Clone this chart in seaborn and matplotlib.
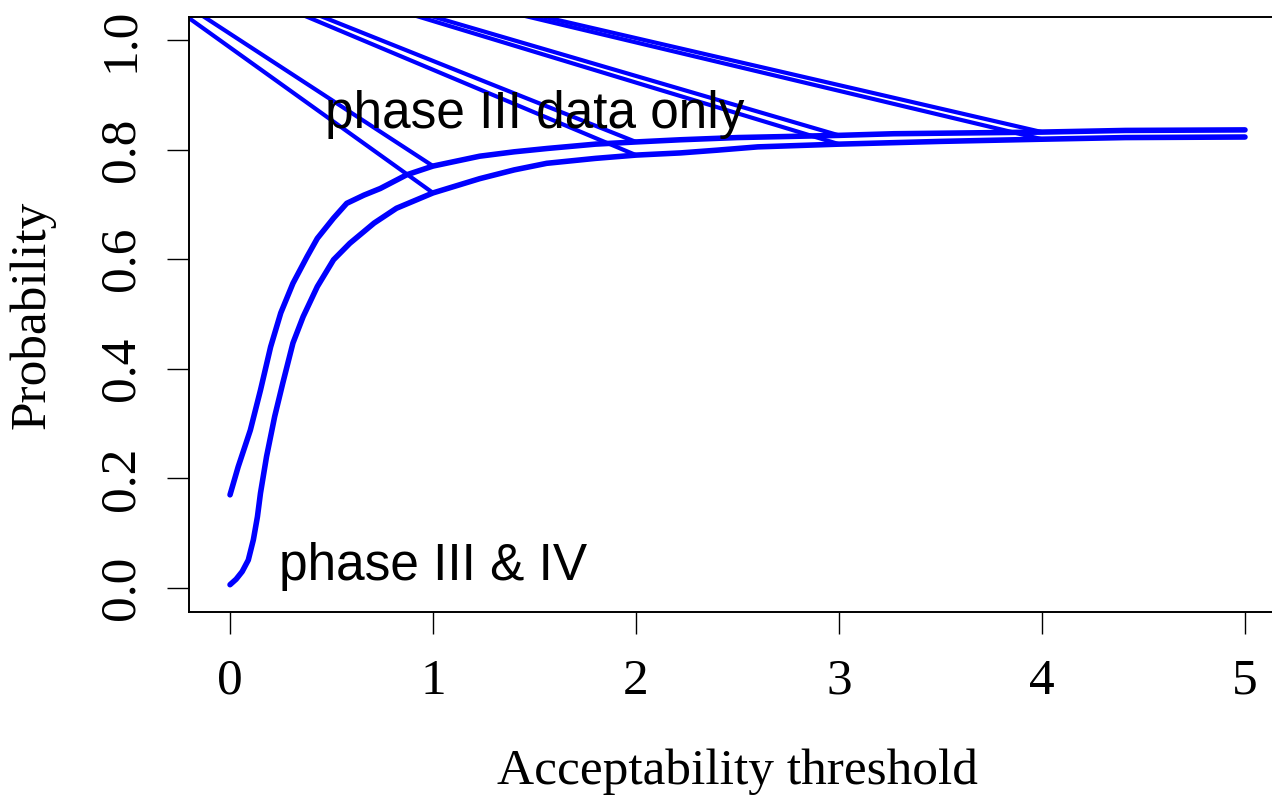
import numpy as np
import pandas as pd
import matplotlib
matplotlib.use("Agg")
import matplotlib.pyplot as plt
import seaborn as sns

# Acceptability curves: probability vs. acceptability threshold
threshold_phase3 = [0.0, 0.04, 0.10, 0.15, 0.20, 0.25, 0.31, 0.38, 0.43, 0.51,
                    0.575, 0.66, 0.74, 0.87, 1.0, 1.23, 1.40, 1.56, 1.80, 2.0,
                    2.22, 2.5, 3.0, 3.27, 4.0, 4.41, 5.0]
prob_phase3 = [0.170, 0.221, 0.288, 0.361, 0.440, 0.502, 0.556, 0.605, 0.638, 0.675,
               0.702, 0.717, 0.729, 0.754, 0.770, 0.788, 0.796, 0.802, 0.810, 0.814,
               0.818, 0.822, 0.826, 0.829, 0.832, 0.835, 0.836]

threshold_phase34 = [0.0, 0.03, 0.06, 0.09, 0.115, 0.135, 0.15, 0.18, 0.22, 0.26,
                     0.31, 0.36, 0.43, 0.51, 0.59, 0.71, 0.82, 1.0, 1.23, 1.40,
                     1.56, 1.80, 2.0, 2.22, 2.4, 2.6, 3.0, 3.5, 4.0, 4.41, 5.0]
prob_phase34 = [0.006, 0.016, 0.030, 0.051, 0.088, 0.130, 0.173, 0.240, 0.313, 0.374,
                0.447, 0.495, 0.550, 0.599, 0.629, 0.666, 0.693, 0.721, 0.747, 0.763,
                0.775, 0.784, 0.790, 0.794, 0.799, 0.805, 0.810, 0.815, 0.819, 0.822, 0.823]

# Straight guide lines joining each curve at these thresholds to a common point
ray_thresholds = [1, 2, 3, 4]
ray_origin_x = -1.05
ray_origin_y = 1.265

x_ticks = [0, 1, 2, 3, 4, 5]
x_tick_labels = ["0", "1", "2", "3", "4", "5"]
y_ticks = [0.0, 0.2, 0.4, 0.6, 0.8, 1.0]
y_tick_labels = ["0.0", "0.2", "0.4", "0.6", "0.8", "1.0"]

label_phase3 = "phase III data only"
label_phase34 = "phase III & IV"
label_phase3_pos = (1.5, 0.839)
label_phase34_pos = (1.0, 0.015)

sns.set_theme(style="white")
plt.rcParams["font.family"] = ["Liberation Serif", "DejaVu Serif"]

curves = pd.concat([
    pd.DataFrame({"threshold": threshold_phase3, "prob": prob_phase3, "series": "phase3"}),
    pd.DataFrame({"threshold": threshold_phase34, "prob": prob_phase34, "series": "phase34"}),
], ignore_index=True)

rays = []
for name, xs, ys in [("phase3", threshold_phase3, prob_phase3),
                     ("phase34", threshold_phase34, prob_phase34)]:
    for k in ray_thresholds:
        p = ys[xs.index(float(k))]
        rid = f"{name}_{k}"
        rays.append({"threshold": ray_origin_x, "prob": ray_origin_y, "ray": rid})
        rays.append({"threshold": float(k), "prob": p, "ray": rid})
rays = pd.DataFrame(rays)

fig = plt.figure(figsize=(12.72, 7.95), dpi=100)
ax = fig.add_axes([0.1486, 0.2302, 1.011 - 0.1486, 0.9786 - 0.2302])

sns.lineplot(data=rays, x="threshold", y="prob", units="ray", estimator=None,
             sort=False, color="#0000ff", lw=3.0, solid_capstyle="round",
             legend=False, ax=ax)
sns.lineplot(data=curves, x="threshold", y="prob", units="series", estimator=None,
             sort=False, color="#0000ff", lw=4.0, solid_capstyle="round",
             solid_joinstyle="round", legend=False, ax=ax)

text_font = ["Liberation Sans", "DejaVu Sans"]
ax.text(*label_phase3_pos, label_phase3, ha="center", va="baseline",
        fontsize=37, family=text_font, color="black", zorder=5)
ax.text(*label_phase34_pos, label_phase34, ha="center", va="baseline",
        fontsize=37, family=text_font, color="black", zorder=5)

ax.set_xlim(-0.202, 5.202)
ax.set_ylim(-0.0438, 1.042)

ax.set_xticks(x_ticks)
ax.set_xticklabels(x_tick_labels)
ax.set_yticks(y_ticks)
ax.set_yticklabels(y_tick_labels)
ax.tick_params(axis="both", direction="out", length=15.8, width=1.0,
               color="black", labelsize=37, labelcolor="black",
               bottom=True, left=True, top=False, right=False)
ax.tick_params(axis="x", pad=17.5)
ax.tick_params(axis="y", pad=16.5, labelrotation=90)
for lab in ax.get_yticklabels():
    lab.set_va("center")

for side in ["left", "bottom", "top", "right"]:
    ax.spines[side].set_visible(True)
    ax.spines[side].set_color("black")
    ax.spines[side].set_linewidth(1.4)

ax.set_xlabel("Acceptability threshold", fontsize=37, color="black",
              va="baseline", ha="center")
ax.xaxis.set_label_coords(0.5 * (230 + 1245) / 1097 - 189 / 1097, -(784 - 612) / 595)
ax.set_ylabel("Probability", fontsize=37, color="black", va="baseline", ha="center")
ax.yaxis.set_label_coords(-(189 - 45) / 1097, 0.5)
ax.grid(False)

fig.savefig("out.png", dpi=100)
